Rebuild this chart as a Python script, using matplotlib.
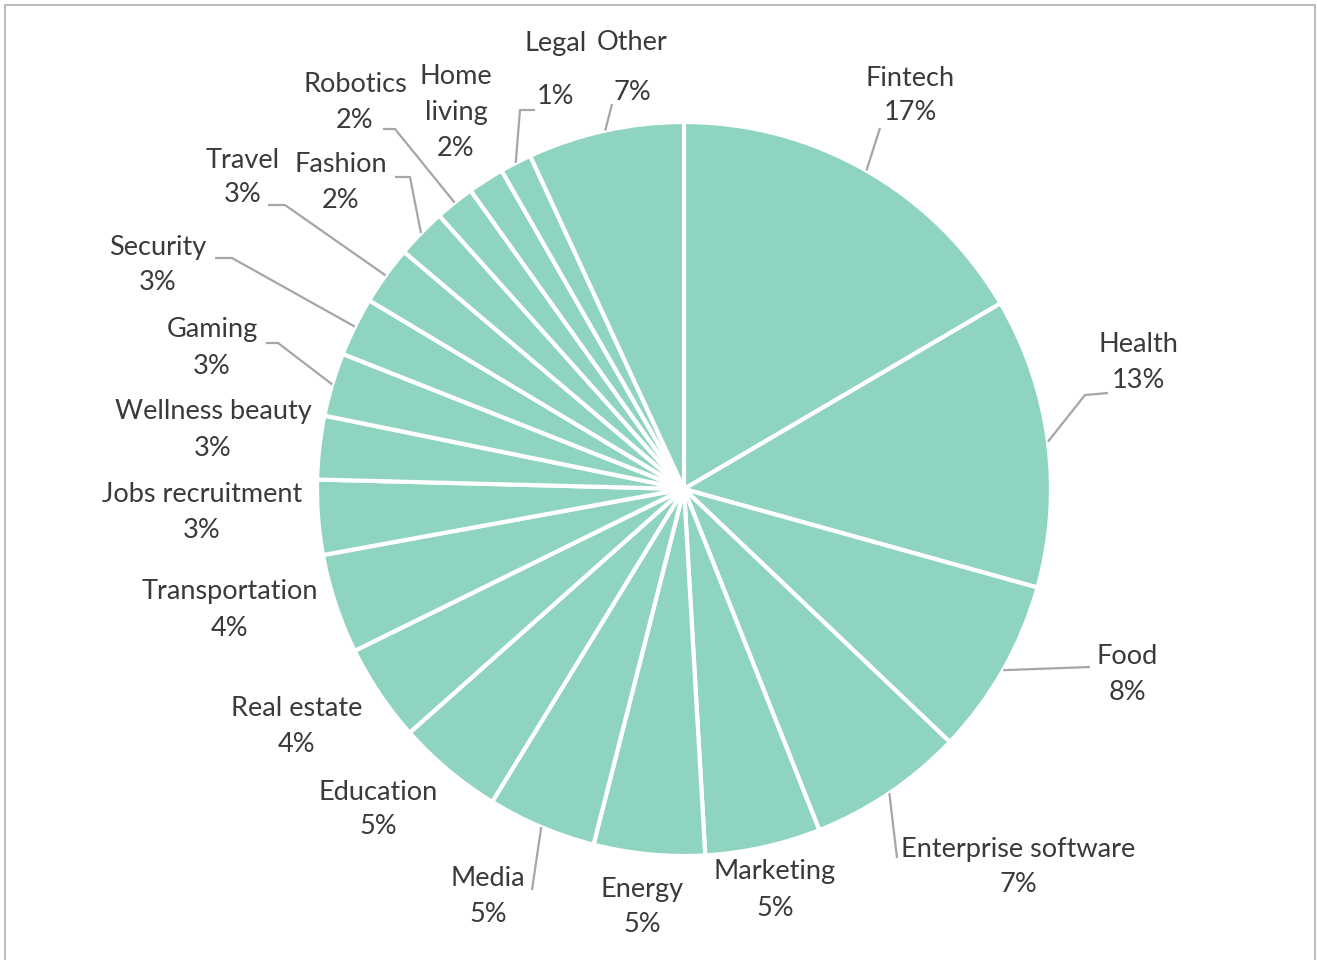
import numpy as np
import matplotlib.pyplot as plt
from matplotlib.patches import Rectangle

# Slice shares (clockwise from 12 o'clock)
categories = ['Fintech', 'Health', 'Food', 'Enterprise software', 'Marketing', 'Energy',
              'Media', 'Education', 'Real estate', 'Transportation', 'Jobs recruitment',
              'Wellness beauty', 'Gaming', 'Security', 'Travel', 'Fashion', 'Robotics',
              'Home living', 'Legal', 'Other']
shares = [16.6, 12.8, 7.8, 6.9, 5.1, 4.9, 4.8, 4.7, 4.3, 4.4, 3.3,
          2.8, 2.8, 2.6, 2.6, 2.2, 1.75, 1.6, 1.4, 6.9]

# Label layout in pixels (x centre, y of first line from top), line gap
label_pos = {
    'Fintech': (910, 78, 35), 'Health': (1138, 345, 36), 'Food': (1127, 656, 36),
    'Enterprise software': (1018, 849, 36), 'Marketing': (775, 872, 36),
    'Energy': (642, 889, 36), 'Media': (488, 879, 36), 'Education': (378, 792, 35),
    'Real estate': (297, 709, 36), 'Transportation': (230, 592, 36),
    'Jobs recruitment': (202, 495, 36), 'Wellness beauty': (213, 412, 36),
    'Gaming': (212, 330, 36), 'Security': (158, 247, 36), 'Travel': (243, 160, 34),
    'Fashion': (341, 165, 36), 'Robotics': (355, 84, 36), 'Home living': (456, 77, 35.5),
    'Legal': (556, 44, 53), 'Other': (632, 42, 50),
}
# leader line points after the rim point (pixels)
leaders = {
    'Fintech': [(880, 128)], 'Health': [(1085, 395), (1108, 393)],
    'Food': [(1090, 667)], 'Enterprise software': [(897, 858)], 'Media': [(532, 890)],
    'Gaming': [(278, 343), (266, 343)], 'Security': [(232, 258), (215, 258)],
    'Travel': [(285, 205), (268, 205)], 'Fashion': [(410, 177), (395, 177)],
    'Robotics': [(395, 129), (383, 129)], 'Legal': [(520, 110), (535, 110)],
    'Other': [(612, 104)],
}

W, H = 1317, 960
fig = plt.figure(figsize=(W / 100, H / 100), dpi=100)
ax = fig.add_axes([0, 0, 1, 1])
ax.set_xlim(0, W)
ax.set_ylim(0, H)
ax.set_aspect('equal')
ax.axis('off')

cx, cy, r = 684, H - 489, 367
fill = '#8fd4c1'
text_col = '#3a3a3a'
line_col = '#a6a6a6'

wedges, _ = ax.pie(shares, colors=[fill] * len(shares), startangle=90, counterclock=False,
                   center=(cx, cy), radius=r, normalize=True,
                   wedgeprops=dict(edgecolor='white', linewidth=3))
ax.set_xlim(0, W)
ax.set_ylim(0, H)

total = sum(shares)
for name, val, w in zip(categories, shares, wedges):
    pct = f'{round(val / total * 100)}%'
    x, y, gap = label_pos[name]
    lines = name.split(' ') if name == 'Home living' else [name]
    lines = lines + [pct]
    for i, s in enumerate(lines):
        ax.text(x, H - (y + i * gap), s, ha='center', va='center', fontsize=19.5,
                family=['Lato', 'DejaVu Sans'], color=text_col)
    if name in leaders:
        mid = np.deg2rad((w.theta1 + w.theta2) / 2)
        px = [cx + r * np.cos(mid)] + [p[0] for p in leaders[name]]
        py = [cy + r * np.sin(mid)] + [H - p[1] for p in leaders[name]]
        ax.plot(px, py, color=line_col, lw=1.6, solid_capstyle='butt')

# chart frame
fig.patches.append(Rectangle((5, -10), 1310, H - 5 + 10, transform=None, fill=False,
                             edgecolor='#b0b0b0', lw=1.2))

fig.savefig('out.png', dpi=100)
